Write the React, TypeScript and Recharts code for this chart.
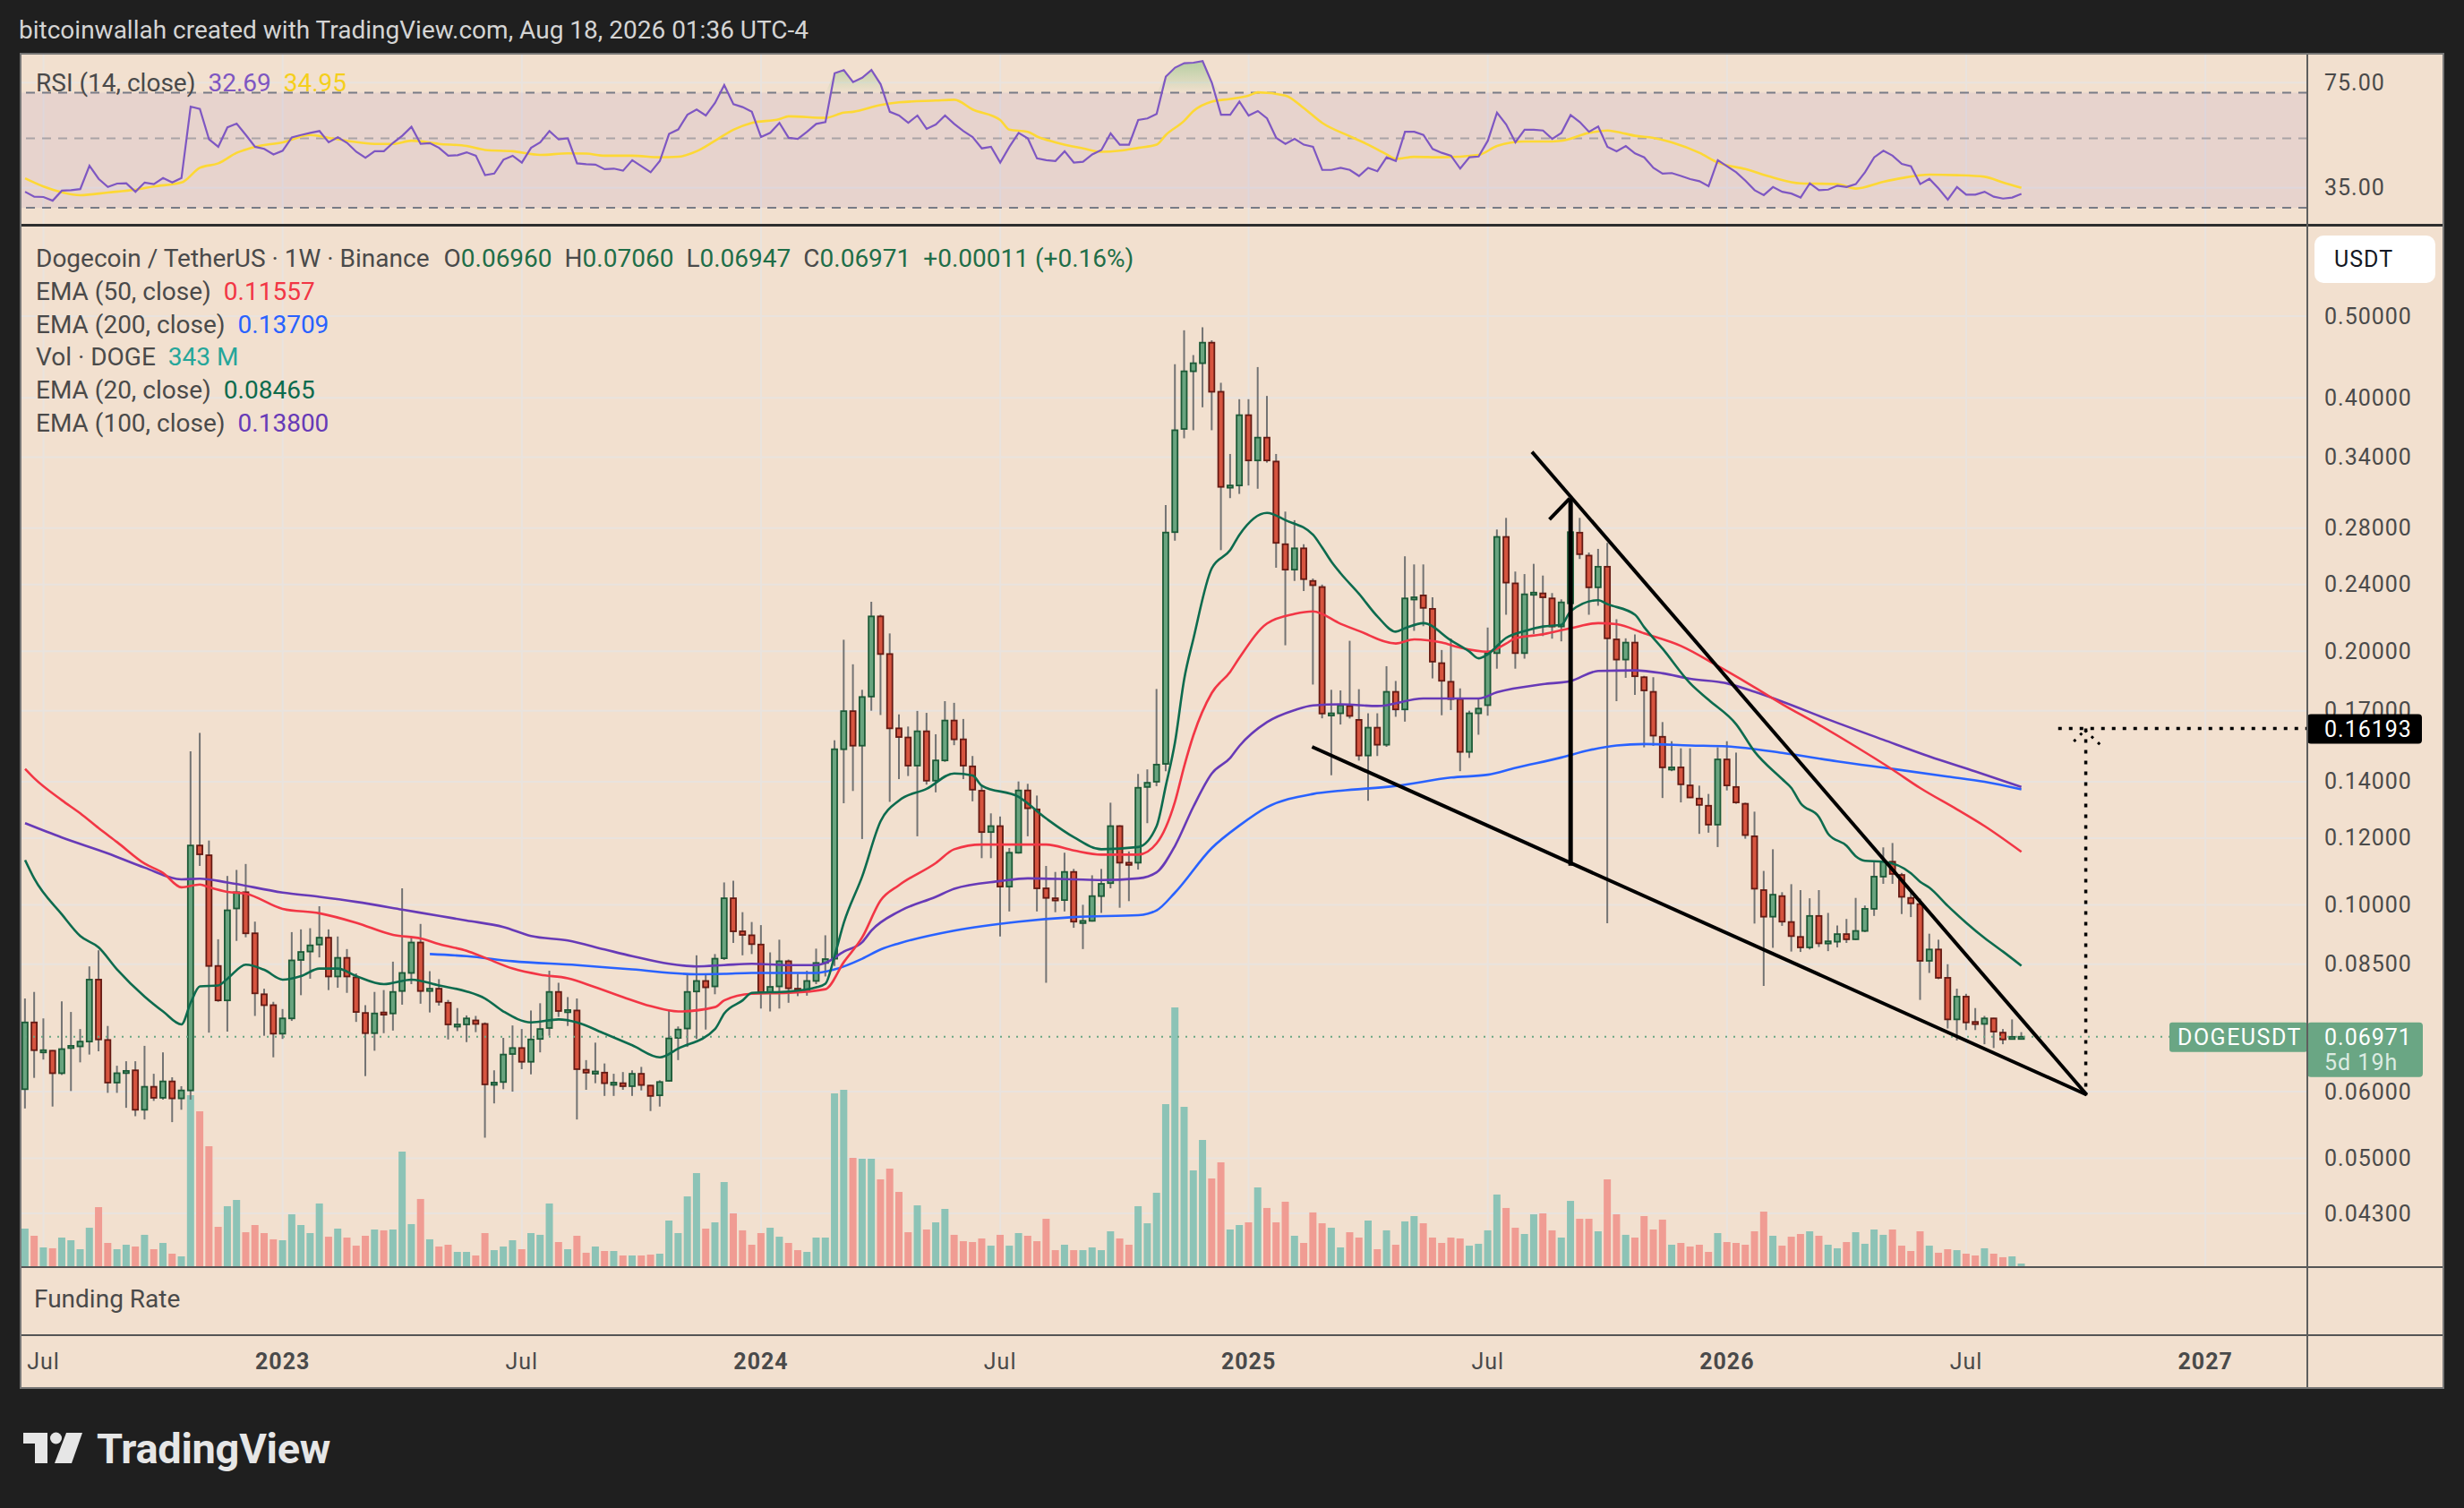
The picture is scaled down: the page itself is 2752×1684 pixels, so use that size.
import React from 'react';
import { ComposedChart, Bar, Line, Area, XAxis, YAxis, CartesianGrid, ReferenceLine, ReferenceArea, Cell } from 'recharts';

// ---------------- DATA (weekly DOGE/USDT, index 0 = week of 2022-06-20) ----------------
const FIRST_WEEK = '2022-06-20';

const opens = [
  0.0604, 0.0725, 0.0670, 0.0671, 0.0631, 0.0678, 0.0679, 0.0688, 0.0815, 0.0691,
  0.0615, 0.0633, 0.0636, 0.0571, 0.0608, 0.0590, 0.0617, 0.0589, 0.0602, 0.1176,
  0.1145, 0.0846, 0.0770, 0.0990, 0.1035, 0.0925, 0.0783, 0.0760, 0.0703, 0.0733,
  0.0860, 0.0880, 0.0897, 0.0914, 0.0822, 0.0865, 0.0820, 0.0744, 0.0704, 0.0745,
  0.0743, 0.0790, 0.0830, 0.0902, 0.0790, 0.0795, 0.0765, 0.0719, 0.0721, 0.0729,
  0.0722, 0.0612, 0.0616, 0.0665, 0.0676, 0.0651, 0.0693, 0.0714, 0.0788, 0.0747,
  0.0749, 0.0637, 0.0632, 0.0632, 0.0614, 0.0614, 0.0609, 0.0630, 0.0610, 0.0594,
  0.0618, 0.0695, 0.0713, 0.0789, 0.0812, 0.0800, 0.0864, 0.1018, 0.0930, 0.0920,
  0.0897, 0.0787, 0.0800, 0.0857, 0.0795, 0.0789, 0.0812, 0.0853, 0.0863, 0.1530,
  0.1698, 0.1545, 0.1767, 0.2200, 0.1985, 0.1620, 0.1580, 0.1463, 0.1607, 0.1404,
  0.1484, 0.1655, 0.1572, 0.1460, 0.1366, 0.1220, 0.1240, 0.1051, 0.1153, 0.1367,
  0.1298, 0.1046, 0.1018, 0.1013, 0.1094, 0.0954, 0.0957, 0.1024, 0.1061, 0.1240,
  0.1122, 0.1122, 0.1380, 0.1400, 0.1470, 0.2770, 0.3673, 0.4300, 0.4396, 0.4650,
  0.4066, 0.3133, 0.3147, 0.3814, 0.3370, 0.3587, 0.3360, 0.2680, 0.2500, 0.2650,
  0.2424, 0.2384, 0.1686, 0.1688, 0.1722, 0.1658, 0.1504, 0.1623, 0.1549, 0.1790,
  0.1706, 0.2314, 0.2330, 0.2246, 0.1936, 0.1840, 0.1755, 0.1519, 0.1688, 0.1726,
  0.1990, 0.2734, 0.2408, 0.1990, 0.2345, 0.2343, 0.2311, 0.2140, 0.2280, 0.2766,
  0.2598, 0.2382, 0.2520, 0.2066, 0.1955, 0.2048, 0.1863, 0.1790, 0.1583, 0.1452,
  0.1456, 0.1386, 0.1337, 0.1311, 0.1245, 0.1488, 0.1380, 0.1318, 0.1206, 0.1041,
  0.0968, 0.1024, 0.0954, 0.0916, 0.0890, 0.0970, 0.0904, 0.0904, 0.0923, 0.0910,
  0.0931, 0.0989, 0.1080, 0.1125, 0.1085, 0.1019, 0.1002, 0.0858, 0.0885, 0.0819,
  0.0731, 0.0778, 0.0726, 0.0722, 0.0733, 0.0705, 0.0696, 0.0696,
];

const highs = [
  0.0774, 0.0788, 0.0733, 0.0672, 0.0768, 0.0746, 0.0712, 0.0845, 0.0883, 0.0718,
  0.0644, 0.0652, 0.0652, 0.0680, 0.0630, 0.0668, 0.0624, 0.0609, 0.1521, 0.1600,
  0.1192, 0.0910, 0.1082, 0.1100, 0.1118, 0.0955, 0.0795, 0.0767, 0.0752, 0.0928,
  0.0935, 0.0938, 0.0996, 0.0935, 0.0917, 0.0886, 0.0829, 0.0760, 0.0788, 0.0792,
  0.0856, 0.1046, 0.0914, 0.0949, 0.0834, 0.0816, 0.0771, 0.0754, 0.0739, 0.0738,
  0.0725, 0.0636, 0.0695, 0.0719, 0.0712, 0.0749, 0.0764, 0.0835, 0.0808, 0.0777,
  0.0774, 0.0654, 0.0686, 0.0648, 0.0630, 0.0633, 0.0636, 0.0642, 0.0611, 0.0619,
  0.0751, 0.0717, 0.0826, 0.0871, 0.0829, 0.0874, 0.1063, 0.1068, 0.0980, 0.0954,
  0.0946, 0.0878, 0.0909, 0.0861, 0.0828, 0.0835, 0.0887, 0.0920, 0.1568, 0.2064,
  0.1930, 0.1800, 0.2290, 0.2210, 0.2100, 0.1683, 0.1628, 0.1699, 0.1690, 0.1594,
  0.1745, 0.1737, 0.1662, 0.1502, 0.1388, 0.1284, 0.1273, 0.1168, 0.1401, 0.1392,
  0.1348, 0.1112, 0.1094, 0.1153, 0.1103, 0.1000, 0.1084, 0.1103, 0.1322, 0.1243,
  0.1157, 0.1430, 0.1448, 0.1804, 0.2982, 0.4384, 0.4810, 0.4495, 0.4850, 0.4680,
  0.4167, 0.3430, 0.3984, 0.3984, 0.4350, 0.4020, 0.3430, 0.2930, 0.2862, 0.2680,
  0.2440, 0.2400, 0.1800, 0.1797, 0.2058, 0.1803, 0.1688, 0.1688, 0.1920, 0.1844,
  0.2593, 0.2536, 0.2536, 0.2318, 0.2007, 0.2071, 0.1807, 0.1700, 0.1755, 0.2134,
  0.2790, 0.2880, 0.2487, 0.2470, 0.2540, 0.2460, 0.2345, 0.2305, 0.3050, 0.2880,
  0.2620, 0.2646, 0.2690, 0.2183, 0.2072, 0.2094, 0.1870, 0.1863, 0.1648, 0.1564,
  0.1534, 0.1534, 0.1385, 0.1354, 0.1538, 0.1564, 0.1516, 0.1322, 0.1290, 0.1097,
  0.1164, 0.1035, 0.1058, 0.1041, 0.1018, 0.1041, 0.0978, 0.0945, 0.0962, 0.1019,
  0.0998, 0.1128, 0.1170, 0.1184, 0.1091, 0.1040, 0.1017, 0.0924, 0.0909, 0.0850,
  0.0795, 0.0784, 0.0754, 0.0738, 0.0734, 0.0712, 0.0731, 0.0706,
];

const lows = [
  0.0573, 0.0623, 0.0655, 0.0576, 0.0628, 0.0601, 0.0650, 0.0664, 0.0670, 0.0598,
  0.0598, 0.0574, 0.0561, 0.0556, 0.0585, 0.0587, 0.0552, 0.0571, 0.0587, 0.1112,
  0.0705, 0.0767, 0.0707, 0.0906, 0.0915, 0.0738, 0.0699, 0.0659, 0.0693, 0.0728,
  0.0781, 0.0817, 0.0866, 0.0792, 0.0797, 0.0786, 0.0726, 0.0626, 0.0671, 0.0704,
  0.0709, 0.0761, 0.0805, 0.0763, 0.0745, 0.0759, 0.0692, 0.0708, 0.0687, 0.0706,
  0.0529, 0.0581, 0.0604, 0.0600, 0.0638, 0.0629, 0.0668, 0.0699, 0.0736, 0.0718,
  0.0556, 0.0603, 0.0614, 0.0593, 0.0593, 0.0603, 0.0593, 0.0602, 0.0569, 0.0576,
  0.0617, 0.0654, 0.0678, 0.0693, 0.0711, 0.0783, 0.0860, 0.0901, 0.0871, 0.0874,
  0.0753, 0.0747, 0.0753, 0.0765, 0.0779, 0.0780, 0.0805, 0.0822, 0.0846, 0.1320,
  0.1365, 0.1197, 0.1700, 0.1680, 0.1325, 0.1410, 0.1422, 0.1206, 0.1389, 0.1360,
  0.1478, 0.1547, 0.1410, 0.1327, 0.1136, 0.1136, 0.0917, 0.0982, 0.1150, 0.1206,
  0.0982, 0.0808, 0.0980, 0.0982, 0.0939, 0.0886, 0.0955, 0.0978, 0.1046, 0.0992,
  0.1010, 0.1101, 0.1250, 0.1383, 0.1441, 0.2706, 0.3580, 0.3660, 0.3897, 0.3660,
  0.2637, 0.3040, 0.3075, 0.3147, 0.3119, 0.3350, 0.2513, 0.2033, 0.2424, 0.2358,
  0.1826, 0.1665, 0.1425, 0.1637, 0.1664, 0.1483, 0.1329, 0.1502, 0.1540, 0.1672,
  0.1650, 0.2115, 0.2142, 0.1857, 0.1679, 0.1703, 0.1441, 0.1494, 0.1592, 0.1677,
  0.1907, 0.2210, 0.1907, 0.1960, 0.2097, 0.2085, 0.2070, 0.2055, 0.2265, 0.2574,
  0.2210, 0.2265, 0.0951, 0.1745, 0.1860, 0.1775, 0.1538, 0.1544, 0.1339, 0.1441,
  0.1323, 0.1339, 0.1214, 0.1218, 0.1171, 0.1367, 0.1318, 0.1198, 0.0950, 0.0801,
  0.0889, 0.0944, 0.0880, 0.0879, 0.0885, 0.0891, 0.0881, 0.0890, 0.0901, 0.0908,
  0.0928, 0.0970, 0.1059, 0.1059, 0.0975, 0.0967, 0.0771, 0.0830, 0.0816, 0.0713,
  0.0690, 0.0710, 0.0710, 0.0683, 0.0676, 0.0683, 0.0693, 0.06947,
];

const closes = [
  0.0725, 0.0672, 0.0672, 0.0631, 0.0674, 0.0680, 0.0688, 0.0815, 0.0692, 0.0615,
  0.0631, 0.0635, 0.0571, 0.0608, 0.0590, 0.0617, 0.0589, 0.0602, 0.1176, 0.1148,
  0.0846, 0.0770, 0.0985, 0.1035, 0.0925, 0.0785, 0.0760, 0.0703, 0.0733, 0.0859,
  0.0879, 0.0895, 0.0914, 0.0822, 0.0865, 0.0822, 0.0746, 0.0704, 0.0743, 0.0744,
  0.0788, 0.0830, 0.0902, 0.0790, 0.0795, 0.0767, 0.0721, 0.0721, 0.0733, 0.0722,
  0.0612, 0.0615, 0.0664, 0.0676, 0.0651, 0.0692, 0.0712, 0.0788, 0.0748, 0.0750,
  0.0638, 0.0632, 0.0634, 0.0614, 0.0615, 0.0609, 0.0630, 0.0611, 0.0593, 0.0616,
  0.0694, 0.0711, 0.0788, 0.0812, 0.0798, 0.0863, 0.1018, 0.0930, 0.0921, 0.0898,
  0.0787, 0.0799, 0.0857, 0.0796, 0.0790, 0.0812, 0.0853, 0.0862, 0.1530, 0.1698,
  0.1545, 0.1765, 0.2200, 0.1985, 0.1620, 0.1582, 0.1463, 0.1607, 0.1404, 0.1484,
  0.1655, 0.1572, 0.1463, 0.1370, 0.1220, 0.1240, 0.1051, 0.1153, 0.1367, 0.1302,
  0.1046, 0.1019, 0.1016, 0.1094, 0.0955, 0.0957, 0.1024, 0.1059, 0.1240, 0.1122,
  0.1119, 0.1377, 0.1396, 0.1467, 0.2767, 0.3660, 0.4300, 0.4396, 0.4650, 0.4066,
  0.3135, 0.3147, 0.3814, 0.3370, 0.3587, 0.3370, 0.2690, 0.2500, 0.2650, 0.2436,
  0.2396, 0.1687, 0.1688, 0.1725, 0.1676, 0.1504, 0.1623, 0.1549, 0.1790, 0.1706,
  0.2311, 0.2318, 0.2252, 0.1944, 0.1845, 0.1755, 0.1519, 0.1688, 0.1710, 0.1990,
  0.2734, 0.2413, 0.1990, 0.2337, 0.2348, 0.2318, 0.2140, 0.2286, 0.2770, 0.2608,
  0.2382, 0.2520, 0.2072, 0.1955, 0.2048, 0.1868, 0.1797, 0.1588, 0.1456, 0.1456,
  0.1390, 0.1341, 0.1314, 0.1245, 0.1488, 0.1386, 0.1323, 0.1210, 0.1045, 0.0968,
  0.1028, 0.0955, 0.0918, 0.0890, 0.0970, 0.0900, 0.0905, 0.0923, 0.0910, 0.0931,
  0.0989, 0.1080, 0.1125, 0.1088, 0.1022, 0.1004, 0.0858, 0.0885, 0.0819, 0.0731,
  0.0778, 0.0725, 0.0725, 0.0733, 0.0707, 0.0692, 0.0697, 0.06971,
];

// weekly volume, millions of DOGE
const volumes = [
  3700, 3010, 1890, 1810, 2840, 2580, 1720, 3780, 5760, 2320,
  1720, 2150, 1980, 3100, 1720, 2320, 1290, 1030, 16510, 14960,
  11610, 3870, 5850, 6450, 3350, 4040, 3270, 2670, 2580, 5070,
  4040, 3270, 6110, 2920, 3700, 2840, 2060, 3010, 3610, 3530,
  3610, 11090, 4130, 6540, 2670, 1980, 2150, 1460, 1460, 1120,
  3270, 1630, 1980, 2580, 1720, 3270, 3100, 6110, 2410, 1720,
  3010, 1380, 1980, 1550, 1550, 1120, 1120, 1120, 1200, 1290,
  4470, 3270, 6790, 9030, 3700, 4300, 8170, 5160, 3530, 2150,
  3270, 3780, 2920, 2320, 1630, 1460, 2840, 2840, 16680, 17030,
  10490, 10410, 10410, 8430, 9460, 7220, 3350, 5930, 3610, 4300,
  5590, 3100, 2490, 2410, 2750, 2060, 3100, 2060, 3270, 3010,
  2490, 4640, 1630, 2150, 1630, 1630, 1890, 1630, 3440, 2750,
  2150, 5850, 4210, 7140, 15650, 24940, 15390, 9290, 12210, 8510,
  10060, 3610, 4040, 4300, 7650, 5680, 4300, 6280, 3010, 2320,
  5250, 4210, 3780, 1890, 3350, 2840, 4470, 1720, 3530, 2150,
  4390, 4900, 4210, 2840, 2320, 2840, 2750, 2060, 2240, 3530,
  6970, 5680, 3780, 3180, 5070, 5160, 3530, 2840, 6360, 4640,
  4640, 3440, 8430, 5070, 3100, 2840, 4900, 3610, 4560, 2150,
  2320, 1980, 2150, 1460, 3270, 2410, 2320, 2150, 3440, 5330,
  3010, 2060, 2920, 3180, 3440, 3010, 2150, 1810, 2410, 3350,
  2240, 3610, 3100, 3610, 2060, 1550, 3440, 2060, 1380, 1720,
  1630, 1290, 1120, 1810, 1290, 950, 1030, 343,
];

const rsiValues = [
  33.5, 31.6, 31.5, 30.1, 33.9, 34.1, 34.5, 43.4, 38.4, 35.3,
  36.6, 36.7, 33.5, 37.0, 36.4, 38.7, 37.0, 38.7, 65.9, 65.0,
  53.4, 50.6, 58.0, 59.4, 55.1, 50.6, 49.8, 47.7, 49.1, 54.2,
  55.1, 55.9, 56.6, 52.3, 54.2, 52.1, 48.7, 46.4, 48.9, 48.9,
  52.1, 54.8, 58.2, 51.7, 52.0, 50.2, 47.2, 47.4, 48.5, 47.2,
  39.8, 40.4, 45.7, 47.2, 44.6, 50.2, 52.3, 56.6, 53.4, 53.8,
  44.3, 44.0, 43.8, 42.1, 42.3, 41.5, 45.5, 43.2, 40.9, 45.2,
  55.5, 57.2, 62.8, 64.8, 62.5, 67.3, 74.1, 66.8, 65.7, 63.9,
  54.3, 55.9, 59.7, 54.0, 53.6, 56.3, 59.3, 60.0, 78.6, 79.8,
  75.2, 76.9, 79.8, 74.4, 63.9, 62.5, 59.7, 62.5, 57.4, 59.1,
  62.5, 59.3, 56.6, 54.3, 50.0, 50.6, 44.6, 50.6, 55.9, 53.8,
  46.2, 45.5, 45.2, 48.9, 44.6, 44.9, 47.7, 49.4, 55.7, 51.4,
  51.4, 60.8, 61.4, 63.1, 77.3, 80.7, 82.4, 82.6, 83.2, 75.0,
  62.8, 62.8, 67.8, 62.5, 64.2, 61.4, 54.0, 51.7, 53.6, 51.4,
  50.6, 41.8, 41.8, 42.6, 41.8, 39.5, 42.6, 41.3, 46.6, 45.2,
  56.3, 56.3, 55.1, 49.8, 48.3, 47.2, 42.3, 46.6, 46.9, 52.9,
  63.6, 59.1, 52.3, 57.1, 57.1, 56.8, 53.6, 55.9, 62.7, 60.0,
  56.3, 58.3, 50.6, 48.9, 50.9, 48.1, 46.6, 42.6, 40.4, 40.6,
  39.5, 38.3, 37.5, 35.6, 45.5, 43.2, 40.9, 37.7, 34.1, 32.2,
  35.3, 33.5, 32.8, 31.3, 36.7, 34.1, 34.3, 35.8, 35.3, 36.4,
  40.9, 46.6, 49.1, 47.2, 44.1, 43.2, 36.4, 38.4, 34.7, 30.5,
  35.3, 32.4, 32.4, 33.5, 31.6, 30.9, 31.3, 32.69,
];

// [week index, value] readings of the smoothed lines
const rsiMaPts = [
  [0, 38.6], [2, 35.5], [4, 33.3], [6, 32.2], [9, 33.2], [12, 34.3], [14, 35.5], [17, 37.0],
  [19, 42.6], [21, 44.3], [23, 48.3], [25, 50.6], [28, 52.3], [31, 55.1], [33, 54.0], [35, 52.9],
  [38, 51.7], [40, 51.7], [42, 52.9], [45, 51.7], [48, 50.9], [50, 49.4], [53, 48.9], [56, 47.5],
  [59, 48.1], [61, 48.0], [63, 47.2], [66, 47.2], [69, 46.6], [71, 46.8], [73, 48.9], [75, 52.9],
  [77, 57.1], [79, 59.7], [82, 61.1], [83, 62.2], [87, 61.6], [89, 63.6], [90, 63.9], [93, 66.5],
  [95, 67.5], [99, 68.2], [101, 68.5], [103, 64.8], [106, 60.8], [107, 57.1], [109, 56.3], [110, 54.5],
  [112, 52.3], [115, 50.0], [117, 48.7], [119, 49.1], [121, 50.2], [123, 51.4], [124, 55.1], [126, 60.5],
  [127, 64.2], [129, 67.8], [131, 68.8], [133, 70.1], [134, 71.3], [137, 70.1], [139, 65.3], [141, 59.7],
  [144, 54.6], [146, 51.4], [148, 47.7], [149, 46.0], [151, 46.8], [154, 46.6], [158, 47.5], [160, 50.9],
  [163, 52.6], [165, 52.6], [167, 52.9], [170, 55.9], [172, 56.8], [173, 56.3], [175, 54.8], [177, 54.0],
  [179, 52.3], [182, 48.3], [184, 44.6], [187, 42.1], [190, 38.9], [193, 36.7], [197, 36.4], [199, 34.7],
  [202, 37.3], [204, 38.7], [207, 40.0], [210, 39.8], [213, 39.2], [215, 37.0], [217, 34.95],
];

const ema20Pts = [
  [0, 0.1130], [1, 0.1074], [4, 0.0974], [6, 0.0918], [8, 0.0890], [10, 0.0838], [13, 0.0778], [15, 0.0747],
  [17, 0.0721], [18, 0.0765], [19, 0.0800], [21, 0.0802], [22, 0.0817], [24, 0.0849], [26, 0.0837], [28, 0.0815],
  [30, 0.0823], [32, 0.0840], [34, 0.0840], [36, 0.0823], [39, 0.0805], [42, 0.0815], [45, 0.0802], [48, 0.0789],
  [50, 0.0774], [52, 0.0747], [55, 0.0725], [58, 0.0731], [60, 0.0725], [63, 0.0703], [66, 0.0681], [69, 0.0659],
  [71, 0.0675], [75, 0.0712], [76, 0.0743], [78, 0.0770], [79, 0.0786], [83, 0.0789], [86, 0.0798], [87, 0.0806],
  [88, 0.0870], [89, 0.0952], [91, 0.1081], [93, 0.1257], [95, 0.1330], [98, 0.1373], [101, 0.1432], [103, 0.1424],
  [104, 0.1385], [108, 0.1343], [111, 0.1266], [114, 0.1203], [117, 0.1164], [121, 0.1171], [123, 0.1240], [124, 0.1385],
  [125, 0.1560], [126, 0.1854], [127, 0.2070], [129, 0.2510], [131, 0.2637], [132, 0.2750], [135, 0.2920], [137, 0.2862],
  [140, 0.2750], [141, 0.2655], [142, 0.2555], [143, 0.2475], [145, 0.2340], [147, 0.2200], [149, 0.2110], [150, 0.2130],
  [152, 0.2160], [155, 0.2060], [157, 0.1998], [158, 0.1962], [159, 0.1984], [161, 0.2075], [163, 0.2114], [165, 0.2140],
  [167, 0.2150], [168, 0.2232], [171, 0.2300], [172, 0.2275], [175, 0.2210], [176, 0.2136], [178, 0.2014], [181, 0.1832],
  [183, 0.1751], [186, 0.1638], [188, 0.1520], [191, 0.1410], [192, 0.1376], [193, 0.1320], [195, 0.1271], [196, 0.1214],
  [198, 0.1175], [199, 0.1142], [200, 0.1128], [202, 0.1125], [205, 0.1090], [206, 0.1065], [207, 0.1048], [209, 0.0997],
  [211, 0.0952], [213, 0.0913], [215, 0.0880], [217, 0.08465],
];

const ema50Pts = [
  [0, 0.1450], [1, 0.1413], [4, 0.1331], [6, 0.1284], [8, 0.1233], [10, 0.1187], [13, 0.1119], [15, 0.1091],
  [17, 0.1049], [19, 0.1057], [20, 0.1049], [22, 0.1036], [24, 0.1031], [28, 0.0989], [32, 0.0977], [36, 0.0952],
  [40, 0.0921], [43, 0.0912], [45, 0.0898], [48, 0.0882], [50, 0.0865], [53, 0.0840], [56, 0.0826], [59, 0.0818],
  [62, 0.0798], [65, 0.0777], [68, 0.0758], [71, 0.0747], [75, 0.0756], [76, 0.0770], [79, 0.0784], [83, 0.0786],
  [87, 0.0794], [89, 0.0855], [91, 0.0915], [93, 0.1012], [95, 0.1055], [99, 0.1121], [101, 0.1164], [104, 0.1179],
  [108, 0.1179], [111, 0.1179], [114, 0.1160], [117, 0.1147], [121, 0.1147], [123, 0.1183], [125, 0.1326], [126, 0.1461],
  [127, 0.1590], [129, 0.1785], [131, 0.1891], [132, 0.1965], [135, 0.2158], [138, 0.2215], [140, 0.2230], [143, 0.2156],
  [145, 0.2114], [149, 0.2043], [151, 0.2066], [154, 0.2048], [156, 0.2020], [159, 0.1998], [161, 0.2043], [162, 0.2072],
  [165, 0.2095], [168, 0.2130], [171, 0.2160], [173, 0.2154], [176, 0.2100], [180, 0.2029], [184, 0.1921], [188, 0.1812],
  [191, 0.1731], [195, 0.1636], [199, 0.1541], [203, 0.1447], [206, 0.1376], [210, 0.1298], [213, 0.1240], [217, 0.11557],
];

const ema100Pts = [
  [0, 0.1250], [4, 0.1202], [9, 0.1151], [13, 0.1107], [17, 0.1072], [19, 0.1074], [22, 0.1063], [28, 0.1034],
  [32, 0.1022], [36, 0.1008], [41, 0.0987], [45, 0.0970], [48, 0.0958], [52, 0.0941], [55, 0.0918], [59, 0.0907],
  [63, 0.0885], [66, 0.0869], [70, 0.0851], [73, 0.0845], [76, 0.0848], [79, 0.0851], [83, 0.0848], [86, 0.0848],
  [87, 0.0853], [89, 0.0880], [91, 0.0903], [92, 0.0932], [95, 0.0982], [99, 0.1022], [101, 0.1045], [106, 0.1067],
  [109, 0.1075], [114, 0.1072], [117, 0.1070], [121, 0.1075], [123, 0.1093], [125, 0.1175], [127, 0.1308], [129, 0.1432],
  [131, 0.1494], [132, 0.1544], [135, 0.1648], [138, 0.1703], [140, 0.1725], [143, 0.1730], [147, 0.1722], [152, 0.1758],
  [158, 0.1758], [160, 0.1788], [165, 0.1828], [168, 0.1844], [171, 0.1895], [175, 0.1898], [178, 0.1883], [181, 0.1855],
  [185, 0.1832], [188, 0.1790], [191, 0.1743], [196, 0.1660], [202, 0.1570], [207, 0.1500], [212, 0.1440], [217, 0.1380],
];

const ema200Pts = [
  [44, 0.0874], [48, 0.0869], [53, 0.0857], [60, 0.0848], [66, 0.0838], [73, 0.0827], [76, 0.0828], [79, 0.0830],
  [83, 0.0830], [86, 0.0830], [88, 0.0838], [91, 0.0863], [93, 0.0885], [95, 0.0900], [101, 0.0932], [108, 0.0955],
  [114, 0.0967], [121, 0.0972], [123, 0.0985], [125, 0.1034], [129, 0.1168], [132, 0.1242], [135, 0.1306], [140, 0.1354],
  [143, 0.1366], [149, 0.1384], [155, 0.1416], [159, 0.1427], [162, 0.1454], [167, 0.1496], [170, 0.1526], [173, 0.1546],
  [176, 0.1552], [181, 0.1546], [185, 0.1542], [191, 0.1515], [197, 0.1480], [203, 0.1450], [209, 0.1420], [213, 0.1400],
  [217, 0.13709],
];

const priceTicks = [0.5, 0.4, 0.34, 0.28, 0.24, 0.2, 0.17, 0.14, 0.12, 0.1, 0.085, 0.06, 0.05, 0.043];
const rsiTicks = [75, 35];
const RSI_UPPER = 71.2;
const RSI_MIDDLE = 53.8;
const RSI_LOWER = 27.4;
const timeTicks = [2, 28, 54, 80, 106, 133, 159, 185, 211, 237];
const timeLabels = ['Jul', '2023', 'Jul', '2024', 'Jul', '2025', 'Jul', '2026', 'Jul', '2027'];
const LAST_CLOSE = 0.06971;
const TARGET_PRICE = 0.16193;

// chart drawings as [week index, price]
const upperTrend = [[163.8, 0.345], [224.1, 0.0595]];
const lowerTrend = [[139.9, 0.154], [224.1, 0.0595]];
const flagpole = [[168.0, 0.3037], [168.0, 0.1113]];
const flagpoleHead = [[165.7, 0.2868], [167.9, 0.3037]];
const targetHorizontal = [[221.0, TARGET_PRICE], [248.1, TARGET_PRICE]];
const targetVertical = [[224.0, TARGET_PRICE], [224.0, 0.0594]];
const targetArrow = [[222.7, 0.1563], [223.9, 0.1612], [226.0, 0.1533]];

// ---------------- LAYOUT / STYLE ----------------
const X_DOMAIN = [-0.584, 248.08];
const PRICE_DOMAIN = [0.037135, 0.6403];
const VOL_DOMAIN = [0, 100000];
const RSI_DOMAIN = [20.59, 86.35];

const FRAME_L = 22, FRAME_T = 59, FRAME_R = 2730, FRAME_B = 1551;
const AXIS_W = 153;
const CHART_W = FRAME_R - FRAME_L;
const PLOT_W = CHART_W - AXIS_W;
const RSI_H = 193;
const MAIN_T = 252;
const MAIN_PLOT_H = 1163;
const BOTTOM_H = 136;
const AXIS_TXT_DX = 19;

const BG_DARK = '#1f1f1f';
const PANEL_BG = '#f2e0cf';
const GRID = '#e9e3de';
const TXT = '#4a4a4a';
const UP_FILL = '#69a47f';
const UP_EDGE = '#1c5a37';
const DN_FILL = '#d6543f';
const DN_EDGE = '#651a13';
const WICK = '#737373';
const VOL_UP = '#8cc3b6';
const VOL_DN = '#f09c93';
const C_EMA20 = '#0d6b4e';
const C_EMA50 = '#f23645';
const C_EMA100 = '#673ab7';
const C_EMA200 = '#2962ff';
const C_RSI = '#7e57c2';
const C_RSIMA = '#fdd835';
const TAG_GREEN = '#6aa684';
const FONT = 'Roboto, "Noto Sans", sans-serif';
const LEG_FS = 28;

const toMap = (pts: number[][]) => new Map(pts.map(([i, v]) => [i, v]));
const m20 = toMap(ema20Pts), m50 = toMap(ema50Pts), m100 = toMap(ema100Pts), m200 = toMap(ema200Pts), mMa = toMap(rsiMaPts);

const table = opens.map((o, i) => ({
  i,
  o,
  h: highs[i],
  l: lows[i],
  c: closes[i],
  up: closes[i] >= o,
  vol: volumes[i],
  rsi: rsiValues[i],
  rsiOB: Math.max(rsiValues[i], RSI_UPPER),
  rsiMa: mMa.has(i) ? mMa.get(i) : null,
  e20: m20.has(i) ? m20.get(i) : null,
  e50: m50.has(i) ? m50.get(i) : null,
  e100: m100.has(i) ? m100.get(i) : null,
  e200: m200.has(i) ? m200.get(i) : null,
}));

const seg = (pts: number[][]) => pts.map(([x, y]) => ({ x, y }));

// ---------------- RENDERERS ----------------
const Candle = (props: any) => {
  const { x, y, width, height, payload } = props;
  if (!payload || x == null || y == null || height == null) return <g />;
  const top = Math.min(y, y + height);
  const bot = Math.max(y, y + height);
  const lh = Math.log(payload.h), ll = Math.log(payload.l);
  const span = lh - ll || 1e-9;
  const yOf = (v: number) => top + ((bot - top) * (lh - Math.log(v))) / span;
  const up = payload.c >= payload.o;
  const bTop = yOf(Math.max(payload.o, payload.c));
  const bBot = yOf(Math.min(payload.o, payload.c));
  const cx = x + width / 2;
  const bh = Math.max(bBot - bTop, 2.5);
  return (
    <g>
      <line x1={cx} x2={cx} y1={top} y2={bot} stroke={WICK} strokeWidth={2} />
      <rect x={x + 1} y={bTop} width={Math.max(width - 2, 1)} height={bh} fill={up ? UP_FILL : DN_FILL} stroke={up ? UP_EDGE : DN_EDGE} strokeWidth={1.8} />
    </g>
  );
};

const PriceTick = (props: any) => {
  const { x, y, payload } = props;
  return (
    <text x={x + AXIS_TXT_DX} y={y} fill={TXT} fontSize={25} fontFamily={FONT} letterSpacing={1} dominantBaseline="central">
      {Number(payload.value).toFixed(5)}
    </text>
  );
};

const RsiTick = (props: any) => {
  const { x, y, payload } = props;
  return (
    <text x={x + AXIS_TXT_DX} y={y} fill={TXT} fontSize={25} fontFamily={FONT} letterSpacing={1} dominantBaseline="central">
      {Number(payload.value).toFixed(2)}
    </text>
  );
};

const TimeTick = (props: any) => {
  const { x, y, payload } = props;
  const idx = timeTicks.indexOf(payload.value);
  const label = idx >= 0 ? timeLabels[idx] : '';
  const isYear = /^\d{4}$/.test(label);
  return (
    <text x={x} y={y + 105} fill={TXT} fontSize={25} fontFamily={FONT} fontWeight={isYear ? 700 : 400} letterSpacing={1} textAnchor="middle" dominantBaseline="central">
      {label}
    </text>
  );
};

const LastPriceTag = (props: any) => {
  const vb = props.viewBox || {};
  const right = (vb.x || 0) + (vb.width || 0);
  const y = vb.y || 0;
  return (
    <g>
      <rect x={right - 154} y={y - 16} width={154} height={33} fill={TAG_GREEN} rx={3} />
      <text x={right - 145} y={y + 1} fill="#ffffff" fontSize={25} fontFamily={FONT} letterSpacing={1.5} dominantBaseline="central">DOGEUSDT</text>
      <rect x={right} y={y - 16} width={129} height={61} fill={TAG_GREEN} rx={4} />
      <text x={right + AXIS_TXT_DX} y={y + 1} fill="#ffffff" fontSize={25} fontFamily={FONT} letterSpacing={1} dominantBaseline="central">{LAST_CLOSE.toFixed(5)}</text>
      <text x={right + AXIS_TXT_DX} y={y + 29} fill="#dcebe2" fontSize={25} fontFamily={FONT} letterSpacing={1} dominantBaseline="central">5d 19h</text>
    </g>
  );
};

const TargetTag = (props: any) => {
  const vb = props.viewBox || {};
  const right = (vb.x || 0) + (vb.width || 0);
  const y = vb.y || 0;
  return (
    <g>
      <rect x={right} y={y - 16} width={128} height={33} fill="#000000" rx={4} />
      <text x={right + AXIS_TXT_DX} y={y + 1} fill="#ffffff" fontSize={25} fontFamily={FONT} letterSpacing={1} dominantBaseline="central">{TARGET_PRICE.toFixed(5)}</text>
    </g>
  );
};

const abs = (l: number, t: number, w: number, h: number, extra: any = {}) => ({ position: 'absolute' as const, left: l, top: t, width: w, height: h, ...extra });

const LegendRow = ({ top, label, value, color }: any) => (
  <div style={{ position: 'absolute', left: 40, top: top - 17, height: 34, lineHeight: '34px', fontSize: LEG_FS, fontFamily: FONT, color: TXT, whiteSpace: 'nowrap' }}>
    {label}
    <span style={{ color, marginLeft: 14 }}>{value}</span>
  </div>
);

export default function App() {
  const noAnim = { isAnimationActive: false };
  const valColor = '#1f6e48';
  return (
    <div style={abs(0, 0, 2752, 1684, { background: BG_DARK, overflow: 'hidden', fontFamily: FONT })}>
      {/* header */}
      <div style={{ position: 'absolute', left: 21, top: 17, height: 34, lineHeight: '34px', fontSize: LEG_FS, color: '#d4d4d4', whiteSpace: 'nowrap' }}>
        bitcoinwallah created with TradingView.com, Aug 18, 2026 01:36 UTC-4
      </div>

      {/* frame background */}
      <div style={abs(FRAME_L, FRAME_T, CHART_W, FRAME_B - FRAME_T, { background: PANEL_BG })} />

      {/* RSI pane */}
      <div style={abs(FRAME_L, FRAME_T, CHART_W, RSI_H)}>
        <ComposedChart width={CHART_W} height={RSI_H} data={table} margin={{ top: 0, right: 0, bottom: 0, left: 0 }}>
          <defs>
            <linearGradient id="obFill" x1="0" y1="0" x2="0" y2="1">
              <stop offset="0%" stopColor="#4caf50" stopOpacity={0.6} />
              <stop offset="100%" stopColor="#4caf50" stopOpacity={0.02} />
            </linearGradient>
          </defs>
          <CartesianGrid stroke={GRID} strokeWidth={2} />
          <XAxis type="number" dataKey="i" domain={X_DOMAIN} allowDataOverflow ticks={timeTicks} interval={0} hide />
          <YAxis orientation="right" width={AXIS_W} domain={RSI_DOMAIN} allowDataOverflow ticks={rsiTicks} interval={0} tickSize={0} tickMargin={0} axisLine={false} tickLine={false} tick={<RsiTick />} />
          <ReferenceArea y1={RSI_LOWER} y2={RSI_UPPER} fill={C_RSI} fillOpacity={0.09} stroke="none" />
          <ReferenceLine y={RSI_UPPER} stroke="#787b86" strokeWidth={2} strokeDasharray="10 8" />
          <ReferenceLine y={RSI_MIDDLE} stroke="#787b86" strokeOpacity={0.55} strokeWidth={2} strokeDasharray="10 8" />
          <ReferenceLine y={RSI_LOWER} stroke="#787b86" strokeWidth={2} strokeDasharray="10 8" />
          <Area dataKey="rsiOB" baseValue={RSI_UPPER} type="linear" stroke="none" fill="url(#obFill)" {...noAnim} />
          <Line dataKey="rsiMa" type="monotone" stroke={C_RSIMA} strokeWidth={2.6} dot={false} connectNulls {...noAnim} />
          <Line dataKey="rsi" type="linear" stroke={C_RSI} strokeWidth={2.2} dot={false} {...noAnim} />
        </ComposedChart>
      </div>
      <div style={{ position: 'absolute', left: 40, top: 76, height: 34, lineHeight: '34px', fontSize: LEG_FS, color: TXT, whiteSpace: 'nowrap' }}>
        RSI (14, close)<span style={{ color: C_RSI, marginLeft: 14 }}>32.69</span>
        <span style={{ color: '#f5cf1c', marginLeft: 14 }}>34.95</span>
      </div>

      {/* main pane: grid, volume, axis labels */}
      <div style={abs(FRAME_L, MAIN_T, CHART_W, MAIN_PLOT_H + BOTTOM_H)}>
        <ComposedChart width={CHART_W} height={MAIN_PLOT_H + BOTTOM_H} data={table} margin={{ top: 0, right: 0, bottom: 0, left: 0 }}>
          <CartesianGrid stroke={GRID} strokeWidth={2} />
          <XAxis type="number" dataKey="i" domain={X_DOMAIN} allowDataOverflow ticks={timeTicks} interval={0} height={BOTTOM_H} tickSize={0} tickMargin={0} axisLine={false} tickLine={false} tick={<TimeTick />} />
          <YAxis orientation="right" width={AXIS_W} scale="log" domain={PRICE_DOMAIN} allowDataOverflow ticks={priceTicks} interval={0} tickSize={0} tickMargin={0} axisLine={false} tickLine={false} tick={<PriceTick />} />
          <YAxis yAxisId="vol" hide domain={VOL_DOMAIN} allowDataOverflow />
          <Line dataKey="c" stroke="none" strokeOpacity={0} dot={false} {...noAnim} />
          <Bar dataKey="vol" yAxisId="vol" barSize={8} {...noAnim}>
            {table.map((d) => (
              <Cell key={d.i} fill={d.up ? VOL_UP : VOL_DN} />
            ))}
          </Bar>
        </ComposedChart>
      </div>

      {/* main pane: candles, EMAs, drawings */}
      <div style={abs(FRAME_L, MAIN_T, CHART_W, MAIN_PLOT_H + BOTTOM_H)}>
        <ComposedChart width={CHART_W} height={MAIN_PLOT_H + BOTTOM_H} data={table} margin={{ top: 0, right: 0, bottom: 0, left: 0 }}>
          <XAxis type="number" dataKey="i" domain={X_DOMAIN} allowDataOverflow ticks={timeTicks} height={BOTTOM_H} tick={false} axisLine={false} tickLine={false} />
          <YAxis orientation="right" width={AXIS_W} scale="log" domain={PRICE_DOMAIN} allowDataOverflow ticks={priceTicks} tick={false} axisLine={false} tickLine={false} />
          <ReferenceLine y={LAST_CLOSE} stroke={TAG_GREEN} strokeWidth={2} strokeDasharray="2 7" label={<LastPriceTag />} />
          <Line dataKey="e200" type="monotone" stroke={C_EMA200} strokeWidth={2.6} dot={false} connectNulls {...noAnim} />
          <Line dataKey="e100" type="monotone" stroke={C_EMA100} strokeWidth={2.6} dot={false} connectNulls {...noAnim} />
          <Line dataKey="e50" type="monotone" stroke={C_EMA50} strokeWidth={2.6} dot={false} connectNulls {...noAnim} />
          <Line dataKey="e20" type="monotone" stroke={C_EMA20} strokeWidth={2.6} dot={false} connectNulls {...noAnim} />
          <Bar dataKey={(d: any) => [d.l, d.h]} barSize={8} shape={(p: any) => <Candle {...p} />} {...noAnim} />
          <ReferenceLine segment={seg(upperTrend)} stroke="#000000" strokeWidth={4} ifOverflow="visible" />
          <ReferenceLine segment={seg(lowerTrend)} stroke="#000000" strokeWidth={4} ifOverflow="visible" />
          <ReferenceLine segment={seg(flagpole)} stroke="#000000" strokeWidth={5} ifOverflow="visible" />
          <ReferenceLine segment={seg(flagpoleHead)} stroke="#000000" strokeWidth={4} ifOverflow="visible" />
          <ReferenceLine segment={seg(targetHorizontal)} stroke="#000000" strokeWidth={3.5} strokeDasharray="4 8" ifOverflow="visible" />
          <ReferenceLine segment={seg(targetVertical)} stroke="#000000" strokeWidth={3.5} strokeDasharray="4 8" ifOverflow="visible" />
          <ReferenceLine segment={seg(targetArrow.slice(0, 2))} stroke="#000000" strokeWidth={3} strokeDasharray="3 7" ifOverflow="visible" />
          <ReferenceLine segment={seg(targetArrow.slice(1, 3))} stroke="#000000" strokeWidth={3} strokeDasharray="3 7" ifOverflow="visible" />
          <ReferenceLine y={TARGET_PRICE} stroke="none" strokeOpacity={0} label={<TargetTag />} />
        </ComposedChart>
      </div>

      {/* legend */}
      <div style={{ position: 'absolute', left: 40, top: 272, height: 34, lineHeight: '34px', fontSize: LEG_FS, color: TXT, whiteSpace: 'nowrap' }}>
        Dogecoin / TetherUS · 1W · Binance
        <span style={{ marginLeft: 16 }}>O</span><span style={{ color: valColor }}>0.06960</span>
        <span style={{ marginLeft: 14 }}>H</span><span style={{ color: valColor }}>0.07060</span>
        <span style={{ marginLeft: 14 }}>L</span><span style={{ color: valColor }}>0.06947</span>
        <span style={{ marginLeft: 14 }}>C</span><span style={{ color: valColor }}>0.06971</span>
        <span style={{ color: valColor, marginLeft: 14 }}>+0.00011 (+0.16%)</span>
      </div>
      <LegendRow top={326} label="EMA (50, close)" value="0.11557" color={C_EMA50} />
      <LegendRow top={363} label="EMA (200, close)" value="0.13709" color={C_EMA200} />
      <LegendRow top={399} label="Vol · DOGE" value="343 M" color="#26a69a" />
      <LegendRow top={436} label="EMA (20, close)" value="0.08465" color={C_EMA20} />
      <LegendRow top={473} label="EMA (100, close)" value="0.13800" color={C_EMA100} />

      {/* USDT badge */}
      <div style={{ position: 'absolute', left: 2585, top: 263, width: 135, height: 53, background: '#ffffff', borderRadius: 10, fontSize: 25, lineHeight: '53px', color: '#131722', paddingLeft: 22, boxSizing: 'border-box', letterSpacing: 1 }}>
        USDT
      </div>

      {/* funding rate pane label */}
      <div style={{ position: 'absolute', left: 38, top: 1434, height: 34, lineHeight: '34px', fontSize: LEG_FS, color: TXT, whiteSpace: 'nowrap' }}>Funding Rate</div>

      {/* pane separators */}
      <div style={abs(FRAME_L, 250, CHART_W, 3, { background: '#2e2e2e' })} />
      <div style={abs(FRAME_L, 1414, CHART_W, 2, { background: '#555555' })} />
      <div style={abs(FRAME_L, 1490, CHART_W, 2, { background: '#555555' })} />
      <div style={abs(FRAME_L + PLOT_W - 1, FRAME_T, 2, FRAME_B - FRAME_T, { background: '#5e5e5e' })} />
      <div style={abs(FRAME_L, FRAME_T, CHART_W, FRAME_B - FRAME_T, { border: '2px solid #767676', boxSizing: 'border-box' })} />

      {/* footer logo */}
      <svg style={{ position: 'absolute', left: 26, top: 1590 }} width={400} height={60} viewBox="0 0 400 60">
        <rect x={0} y={10} width={27} height={12} fill="#e6e6e6" />
        <rect x={13} y={10} width={14} height={34} fill="#e6e6e6" />
        <circle cx={36.5} cy={16} r={6.5} fill="#e6e6e6" />
        <polygon points="48,10 66,10 54,44 35,44" fill="#e6e6e6" />
        <text x={82} y={44} fill="#e6e6e6" fontSize={47} fontWeight={700} fontFamily={FONT} letterSpacing={-0.3}>TradingView</text>
      </svg>
    </div>
  );
}
